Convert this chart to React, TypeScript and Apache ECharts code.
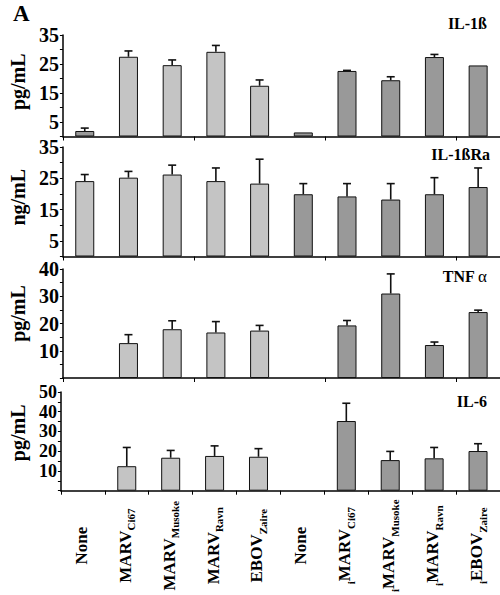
import React, { useEffect, useRef } from "react";
import * as echarts from "echarts";

const categories = ["None", "MARV Ci67", "MARV Musoke", "MARV Ravn", "EBOV Zaire", "None ", "iMARV Ci67", "iMARV Musoke", "iMARV Ravn", "iEBOV Zaire"];
const labelPrefix = ["", "", "", "", "", "", "i", "i", "i", "i"];
const labelMain = ["None", "MARV", "MARV", "MARV", "EBOV", "None", "MARV", "MARV", "MARV", "EBOV"];
const labelSub = ["", "Ci67", "Musoke", "Ravn", "Zaire", "", "Ci67", "Musoke", "Ravn", "Zaire"];

// IL-1ß (pg/mL)
const il1b = [1.9, 27.5, 24.6, 29.2, 17.5, 1.4, 22.6, 19.4, 27.4, 24.5];
const il1bErr = [1.0, 2.0, 1.8, 2.2, 2.0, 0, 0.2, 1.2, 0.9, 0];
const il1bShade = [1, 0, 0, 0, 0, 1, 1, 1, 1, 1];
// IL-1ßRa (ng/mL)
const il1bra = [24.1, 25.2, 26.2, 24.1, 23.3, 19.9, 19.2, 18.2, 19.9, 22.2];
const il1braErr = [2.1, 2.0, 3.0, 4.2, 7.8, 3.4, 4.1, 5.1, 5.3, 6.1];
const il1braShade = [0, 0, 0, 0, 0, 1, 1, 1, 1, 1];
// TNFα (pg/mL)
const tnfa = [0, 12.8, 17.9, 16.7, 17.4, 0, 19.3, 31.0, 12.1, 24.2];
const tnfaErr = [0, 3.1, 3.1, 4.0, 1.9, 0, 1.8, 7.2, 1.1, 0.7];
const tnfaShade = [0, 0, 0, 0, 0, 1, 1, 1, 1, 1];
// IL-6 (pg/mL)
const il6 = [0, 12.4, 16.7, 17.6, 17.2, 0, 35.3, 15.5, 16.4, 20.1];
const il6Err = [0, 9.5, 3.7, 5.1, 4.1, 0, 9.0, 4.4, 5.5, 3.7];
const il6Shade = [0, 0, 0, 0, 0, 1, 1, 1, 1, 1];

const yMax = [35, 35, 40, 50];
const yLabelVals = [[5, 15, 25, 35], [5, 15, 25, 35], [10, 20, 30, 40], [10, 20, 30, 40, 50]];
const yNames = ["pg/mL", "ng/mL", "pg/mL", "pg/mL"];
const panelTitles = ["IL-1ß", "IL-1ßRa", "TNF α", "IL-6"];

const FONT = "'Liberation Serif', 'Times New Roman', serif";
const LIGHT = "#c4c4c4";
const DARK = "#999999";

export default function App() {
  const ref = useRef<HTMLDivElement>(null);
  useEffect(() => {
    if (!ref.current) return;
    const chart = echarts.init(ref.current, null, { renderer: "svg" });
    const values = [il1b, il1bra, tnfa, il6];
    const errs = [il1bErr, il1braErr, tnfaErr, il6Err];
    const shades = [il1bShade, il1braShade, tnfaShade, il6Shade];
    const grids = [
      { left: 51, right: 0, top: 35, height: 101.5 },
      { left: 51, right: 0, top: 147, height: 109.5 },
      { left: 51, right: 0, top: 269, height: 109 },
      { left: 51, right: 0, top: 392, height: 109 },
    ];
    const namePad = [8, 9, 20, 17];
    const labelSize = [20, 20, 20, 18];
    const titleTop = [15, 146, 268, 393];
    const axisLineStyle = { color: "#000", width: 1.5 };

    const xAxes = grids.map((_, i) => ({
      type: "category",
      gridIndex: i,
      data: categories,
      axisLine: { show: true, lineStyle: axisLineStyle },
      axisTick: { show: true, length: 4, inside: false, lineStyle: { color: "#000", width: 1 } },
      axisLabel:
        i === 3
          ? {
              show: true,
              interval: 0,
              rotate: 90,
              align: "center",
              verticalAlign: "middle",
              margin: 55,
              color: "#000",
              formatter: (_v: string, idx: number) => {
                const p = labelPrefix[idx];
                const s = labelSub[idx];
                return (p ? `{s|${p}}` : "") + `{m|${labelMain[idx]}}` + (s ? `{s|${s}}` : "");
              },
              rich: {
                m: { fontSize: 17, fontWeight: "bold", fontFamily: FONT, color: "#000", padding: [0, 0, 3, 0] },
                s: { fontSize: 11, fontWeight: "bold", fontFamily: FONT, color: "#000", verticalAlign: "bottom" },
              },
            }
          : { show: false },
    }));

    const yAxes = grids.map((_, i) => ({
      type: "value",
      gridIndex: i,
      min: 0,
      max: yMax[i],
      interval: 5,
      splitLine: { show: false },
      axisLine: { show: true, lineStyle: axisLineStyle },
      axisTick: { show: true, length: 3, lineStyle: { color: "#000", width: 1 } },
      axisLabel: {
        margin: 4,
        color: "#000",
        fontFamily: FONT,
        fontWeight: "bold",
        fontSize: labelSize[i],
        lineHeight: 15,
        formatter: (v: number) => (yLabelVals[i].includes(v) ? String(v) : ""),
      },
      name: yNames[i],
      nameLocation: "middle",
      nameGap: 26,
      nameTextStyle: {
        color: "#000",
        fontFamily: FONT,
        fontWeight: "bold",
        fontSize: 20,
        padding: [0, 0, 0, namePad[i]],
      },
    }));

    const series: any[] = [];
    values.forEach((vals, i) => {
      series.push({
        type: "bar",
        xAxisIndex: i,
        yAxisIndex: i,
        barWidth: 19,
        data: vals.map((v, k) => ({
          value: v === 0 ? null : v,
          itemStyle: { color: shades[i][k] ? DARK : LIGHT, borderColor: "#111", borderWidth: 1 },
        })),
        z: 2,
      });
      series.push({
        type: "custom",
        xAxisIndex: i,
        yAxisIndex: i,
        z: 3,
        data: vals.map((v, k) => [k, v, errs[i][k]]),
        encode: { x: 0, y: 1 },
        renderItem: (_p: any, api: any) => {
          const x = api.value(0);
          const v = api.value(1);
          const e = api.value(2);
          if (!v || e === undefined || e === null) return null;
          if (e <= 0) return null;
          const p0 = api.coord([x, v]);
          const p1 = api.coord([x, v + e]);
          const st = { stroke: "#111", lineWidth: 1.6 };
          return {
            type: "group",
            children: [
              { type: "line", shape: { x1: p0[0], y1: p0[1], x2: p1[0], y2: p1[1] }, style: st },
              { type: "line", shape: { x1: p1[0] - 4, y1: p1[1], x2: p1[0] + 4, y2: p1[1] }, style: st },
            ],
          };
        },
      });
    });

    const graphics: any[] = [
      { type: "text", left: 13, top: 2, style: { text: "A", font: `bold 23px ${FONT}`, fill: "#000" } },
    ];
    panelTitles.forEach((t, i) => {
      const isTnf = t.startsWith("TNF");
      graphics.push({
        type: "text",
        right: i === 1 ? 10 : 13,
        top: titleTop[i],
        style: isTnf
          ? {
              text: "{b|TNF} {a|α}",
              rich: {
                b: { font: `bold 16px ${FONT}`, fill: "#000" },
                a: { font: `17px ${FONT}`, fill: "#000" },
              },
              fill: "#000",
            }
          : { text: t, font: `bold 16px ${FONT}`, fill: "#000" },
      });
    });

    chart.setOption({
      animation: false,
      backgroundColor: "#fff",
      grid: grids,
      xAxis: xAxes,
      yAxis: yAxes,
      series,
      graphic: graphics,
    });
    return () => chart.dispose();
  }, []);
  return <div ref={ref} style={{ position: "absolute", left: 0, top: 0, width: 500, height: 595 }} />;
}
